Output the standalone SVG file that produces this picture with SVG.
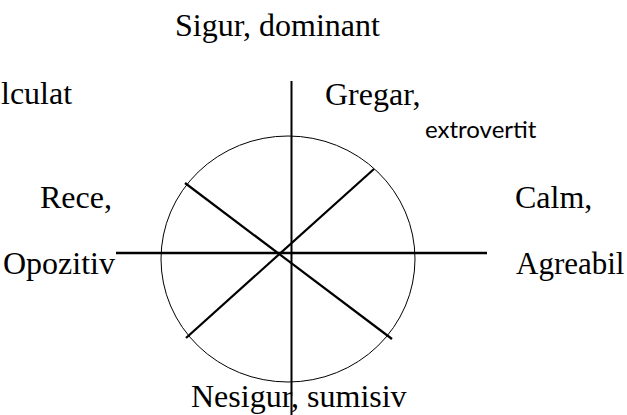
<svg xmlns="http://www.w3.org/2000/svg" width="627" height="415" viewBox="0 0 627 415">
<style>
.t{font-family:"Liberation Serif","Times New Roman",serif;font-size:32px;fill:#000}
.s{font-family:Lato,"Liberation Sans",sans-serif;font-size:24px;fill:#000}
.ln{stroke:#000;fill:none;stroke-linecap:butt}
</style>
<rect width="627" height="415" fill="#fff"/>
<g id="circle">
<ellipse class="ln" cx="288" cy="259" rx="127" ry="123" stroke-width="1"/>
</g>
<g id="axes">
<line class="ln" x1="291.5" y1="81" x2="291.5" y2="415" stroke-width="2"/>
<line class="ln" x1="116" y1="253" x2="487" y2="253" stroke-width="2.5"/>
<line class="ln" x1="185" y1="183" x2="392" y2="339" stroke-width="2.2"/>
<line class="ln" x1="374" y1="169" x2="186" y2="338" stroke-width="2.2"/>
</g>
<g id="labels">
<text class="t" x="175" y="36">Sigur, dominant</text>
<text class="t" x="1" y="104">lculat</text>
<text class="t" x="325" y="105">Gregar,</text>
<text class="s" x="425" y="138">extrovertit</text>
<text class="t" x="40" y="208">Rece,</text>
<text class="t" x="515" y="208">Calm,</text>
<text class="t" x="3" y="274">Opozitiv</text>
<text class="t" x="516" y="274" style="font-size:31px">Agreabil</text>
<text class="t" x="191" y="407">Nesigur, sumisiv</text>
</g>
</svg>
